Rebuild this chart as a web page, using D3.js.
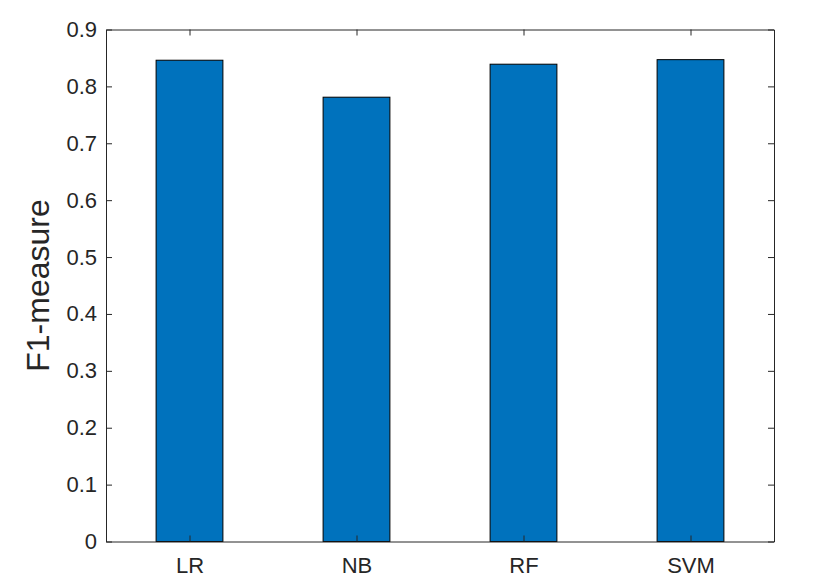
<!DOCTYPE html>
<html>
<head>
<meta charset="utf-8">
<script src="https://cdn.jsdelivr.net/npm/d3@7"></script>
<style>
	body { margin: 0; background: #fff; }
	svg { display: block; font-family: "Liberation Sans", Arial, sans-serif; }
</style>
</head>
<body>
<div id="chart"></div>
<script>
const categories = ["LR", "NB", "RF", "SVM"]
const f1Values = [0.846, 0.781, 0.839, 0.847]
const yTicks = [0, 0.1, 0.2, 0.3, 0.4, 0.5, 0.6, 0.7, 0.8, 0.9]

const width = 818
const height = 588
const plotLeft = 106, plotRight = 774, plotTop = 29.5, plotBottom = 541.5
const tickLen = 6

const svg = d3.select("#chart").append("svg")
	.attr("width", width)
	.attr("height", height)

const x = d3.scaleLinear().domain([0.5, 4.5]).range([plotLeft, plotRight])
const y = d3.scaleLinear().domain([0, 0.9]).range([plotBottom, plotTop])
const barWidth = 0.4

// bars
svg.append("g").selectAll("rect")
	.data(f1Values)
	.join("rect")
	.attr("x", (d, i) => x(i + 1 - barWidth / 2))
	.attr("width", x(1 + barWidth / 2) - x(1 - barWidth / 2))
	.attr("y", d => y(d))
	.attr("height", d => y(0) - y(d))
	.attr("fill", "#0072BD")
	.attr("stroke", "#000")
	.attr("stroke-width", 1)

// axes (MATLAB style, ticks inward, box on)
const axisColor = "#262626"
const yAxisLeft = d3.axisLeft(y).tickValues(yTicks).tickSize(-tickLen).tickSizeOuter(0).tickPadding(9)
	.tickFormat(d => d === 0 ? "0" : d3.format(".1f")(d))
const yAxisRight = d3.axisRight(y).tickValues(yTicks).tickSize(-tickLen).tickSizeOuter(0).tickFormat("")
const xAxisBottom = d3.axisBottom(x).tickValues([1, 2, 3, 4]).tickSize(-tickLen).tickSizeOuter(0).tickPadding(16)
	.tickFormat(d => categories[d - 1])
const xAxisTop = d3.axisTop(x).tickValues([1, 2, 3, 4]).tickSize(-tickLen).tickSizeOuter(0).tickFormat("")

function style(g) {
	g.select(".domain").attr("stroke", axisColor)
	g.selectAll(".tick line").attr("stroke", axisColor)
	g.selectAll(".tick text").attr("fill", axisColor).attr("font-size", 22)
		.attr("font-family", "Liberation Sans, Arial, sans-serif")
}

svg.append("g").attr("transform", `translate(${plotLeft},0)`).call(yAxisLeft).call(style)
svg.append("g").attr("transform", `translate(${plotRight},0)`).call(yAxisRight).call(style)
svg.append("g").attr("transform", `translate(0,${plotBottom})`).call(xAxisBottom).call(style)
svg.append("g").attr("transform", `translate(0,${plotTop})`).call(xAxisTop).call(style)

// y label
svg.append("text")
	.attr("transform", `translate(49,${(plotTop + plotBottom) / 2}) rotate(-90)`)
	.attr("text-anchor", "middle")
	.attr("font-size", 32)
	.attr("fill", axisColor)
	.text("F1-measure")
</script>
</body>
</html>
